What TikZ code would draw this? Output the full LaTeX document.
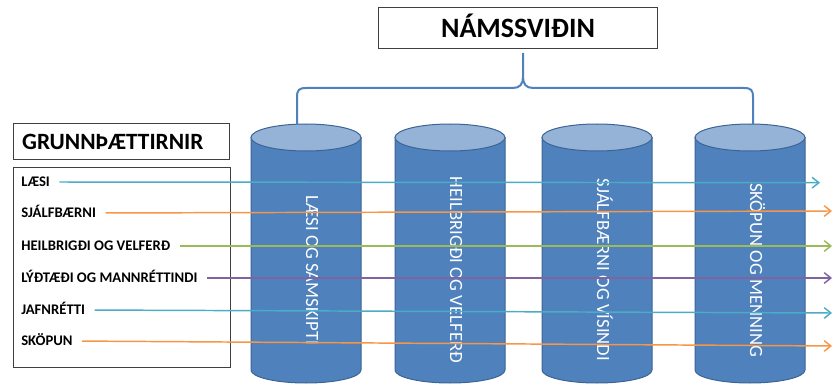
\documentclass[tikz,border=0pt]{standalone}
\usepackage{fontspec}
\setmainfont{Carlito}
\usetikzlibrary{arrows.meta}
\usepackage{xcolor}

\definecolor{cylblue}{RGB}{79,129,189}
\definecolor{cyllight}{RGB}{149,179,215}
\definecolor{cyledge}{RGB}{60,100,150}
\definecolor{aqualine}{RGB}{75,172,198}
\definecolor{orangeline}{RGB}{247,150,70}
\definecolor{greenline}{RGB}{155,187,89}
\definecolor{purpleline}{RGB}{128,100,162}

\begin{document}
\begin{tikzpicture}[x=0.75pt,y=0.75pt,yscale=-1,xscale=1,
  boxnode/.style={draw=black!75, line width=0.75pt, inner sep=0pt},
  itemtext/.style={anchor=west, inner sep=0pt, text height=7.1pt, text depth=0pt, font=\fontsize{11}{13}\selectfont\bfseries},
  cyltext/.style={rotate=-90, anchor=base, inner sep=0pt, text=white, font=\fontsize{14}{16}\selectfont},
  cylbody/.style={fill=cylblue, draw=cyledge, line width=0.75pt},
  cyltop/.style={fill=cyllight, draw=cyledge, line width=0.75pt},
  brace/.style={draw=cylblue, line width=1.5pt, line join=round},
  link/.style={line width=1.1pt, shorten <=7pt, -{Straight Barb[length=5pt,width=8pt]}}
]
\useasboundingbox (0,0) rectangle (836,385);

%Shape: Cylinder [id:laesisam]
\draw [cylbody] (251,137.5) -- (251,370) arc [start angle=180, end angle=0, x radius=55, y radius=13] -- (361,137.5) -- cycle ;
\draw [cyltop] (306,137.5) ellipse [x radius=55, y radius=13.5] ;
%Shape: Cylinder [id:heilvel]
\draw [cylbody] (395,137.5) -- (395,370) arc [start angle=180, end angle=0, x radius=55, y radius=13] -- (505,137.5) -- cycle ;
\draw [cyltop] (450,137.5) ellipse [x radius=55, y radius=13.5] ;
%Shape: Cylinder [id:sjalfvis]
\draw [cylbody] (542,137.5) -- (542,370) arc [start angle=180, end angle=0, x radius=55, y radius=13] -- (652,137.5) -- cycle ;
\draw [cyltop] (597,137.5) ellipse [x radius=55, y radius=13.5] ;
%Shape: Cylinder [id:skopmenn]
\draw [cylbody] (695,137.5) -- (695,370) arc [start angle=180, end angle=0, x radius=55, y radius=13] -- (805,137.5) -- cycle ;
\draw [cyltop] (750,137.5) ellipse [x radius=55, y radius=13.5] ;

% Text Node
\node (laesisam) [cyltext] at (306,270) {LÆSI OG SAMSKIPTI};
% Text Node
\node (heilvel) [cyltext] at (450,270) {HEILBRIGÐI OG VELFERÐ};
% Text Node
\node (sjalfvis) [cyltext] at (597,270) {SJÁLFBÆRNI OG VÍSINDI};
% Text Node
\node (skopmenn) [cyltext] at (750,270) {SKÖPUN OG MENNING};

% Text Node
\node (namssvid) [boxnode, minimum width=209.8pt, minimum height=30.75pt, text height=13.5pt, text depth=0pt, font=\fontsize{21}{24}\selectfont\bfseries] at (518,28.5) {NÁMSSVIÐIN};
% Text Node
\node (grunn) [boxnode, anchor=north west, minimum height=27pt, text width=148.5pt, inner xsep=6.75pt, align=left, text height=11.3pt, text depth=0pt, font=\fontsize{17.5}{20}\selectfont\bfseries] at (12.7,123) {GRUNNÞÆTTIRNIR};
%Shape: Rectangle [id:grunnlist]
\node (grunnlist) [boxnode, anchor=north west, minimum width=162.75pt, minimum height=150pt] at (12.7,167) {};

% Text Node
\node (laesi) [itemtext] at (21,182) {LÆSI};
% Text Node
\node (sjalfb) [itemtext] at (21,213) {SJÁLFBÆRNI};
% Text Node
\node (heilbr) [itemtext] at (21,246) {HEILBRIGÐI OG VELFERÐ};
% Text Node
\node (lydtaedi) [itemtext] at (21,278) {LÝÐTÆÐI OG MANNRÉTTINDI};
% Text Node
\node (jafnr) [itemtext] at (21,310) {JAFNRÉTTI};
% Text Node
\node (skopun) [itemtext] at (21,341) {SKÖPUN};

\coordinate (bracetop) at (523,53);
\coordinate (braceleft) at (297,125);
\coordinate (braceright) at (753,125);
%Curve Lines [id:brace]
\draw [brace] (braceleft) -- (297,97) .. controls (297,90) and (299,88) .. (306,88) -- (513,88) .. controls (520,88) and (523,84) .. (523,77) -- (bracetop) ;
\draw [brace] (braceright) -- (753,97) .. controls (753,90) and (751,88) .. (744,88) -- (533,88) .. controls (526,88) and (523,84) .. (523,77) ;

\coordinate (laesiend) at (820,182.7);
\coordinate (sjalfbend) at (832,211);
\coordinate (heilbrend) at (832,246);
\coordinate (lydtaediend) at (832,278);
\coordinate (jafnrend) at (832,313);
\coordinate (skopunend) at (832,346);
%Straight Lines [id:links]
\draw [link, draw=aqualine] (laesi.east) -- (laesiend) ;
\draw [link, draw=orangeline] (sjalfb.east) -- (sjalfbend) ;
\draw [link, draw=greenline] (heilbr.east) -- (heilbrend) ;
\draw [link, draw=purpleline] (lydtaedi.east) -- (lydtaediend) ;
\draw [link, draw=aqualine] (jafnr.east) -- (jafnrend) ;
\draw [link, draw=orangeline] (skopun.east) -- (skopunend) ;

\end{tikzpicture}
\end{document}
